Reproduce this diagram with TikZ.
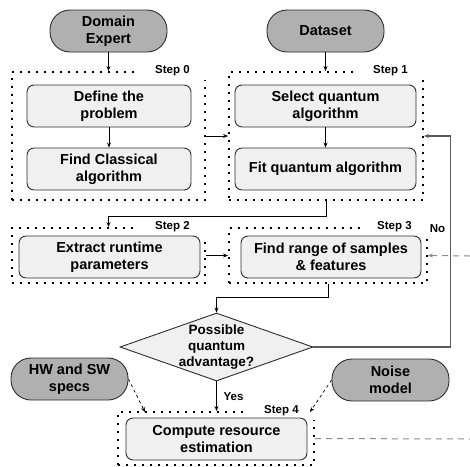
\documentclass[tikz,border=0pt]{standalone}
\usepackage{fontspec}
\setmainfont{Liberation Sans}
\usetikzlibrary{shapes.geometric,arrows.meta}
\definecolor{term}{RGB}{176,176,176}
\definecolor{proc}{RGB}{240,240,240}
\definecolor{edge}{RGB}{45,45,45}
\definecolor{loopline}{RGB}{90,90,90}
\definecolor{extra}{RGB}{140,140,140}

\tikzset{
  terminal/.style={draw=edge, fill=term, line width=0.9pt, rounded corners=20pt,
    minimum width=117pt, minimum height=42pt, align=center,
    font=\bfseries\fontsize{14.5}{17}\selectfont},
  process/.style={draw=edge, fill=proc, line width=0.9pt, rounded corners=7pt,
    minimum width=181pt, minimum height=42pt, align=center,
    font=\bfseries\fontsize{14.5}{17}\selectfont},
  decision/.style={diamond, draw=edge, fill=proc, line width=0.9pt, aspect=2.9,
    inner sep=-2pt, minimum width=193pt, minimum height=68pt, align=center,
    font=\bfseries\fontsize{13.5}{16}\selectfont},
  stepbox/.style={draw, line width=1.9pt, dash pattern=on 1.9pt off 6.1pt},
  steplabel/.style={fill=white, anchor=east, inner xsep=16pt, inner ysep=4pt,
    font=\bfseries\fontsize{11.5}{13}\selectfont},
  answer/.style={font=\bfseries\fontsize{11.5}{13}\selectfont},
  flow/.style={-{Stealth[length=5pt,width=4pt]}, line width=0.8pt},
  feedback/.style={flow, draw=loopline, line width=1.1pt},
  input/.style={flow, dashed, line width=0.7pt},
  outside/.style={draw=extra, line width=1pt, dash pattern=on 6pt off 5pt}
}

\begin{document}
\begin{tikzpicture}[x=1pt, y=-1pt]
\useasboundingbox (0,0) rectangle (470,466);
% sources
\node[terminal] (domain) at (108.5,31) {Domain\\Expert};
\node[terminal] (dataset) at (325.5,31) {Dataset};
\node[terminal] (hwsw) at (69.5,379) {HW and SW\\specs};
\node[terminal] (noise) at (390.5,380) {Noise\\model};
% step frames
\node[stepbox, minimum width=193pt, minimum height=128pt] (step0) at (108.5,136) {};
\node[stepbox, minimum width=194pt, minimum height=128pt] (step1) at (326,136) {};
\node[stepbox, minimum width=193pt, minimum height=55pt] (step2) at (108.5,255.5) {};
\node[stepbox, minimum width=198pt, minimum height=55pt] (step3) at (328,255.5) {};
\node[stepbox, minimum width=196pt, minimum height=53pt] (step4) at (216,438.5) {};
\node[steplabel] (lab0) at (step0.north east) {Step 0};
\node[steplabel] (lab1) at (step1.north east) {Step 1};
\node[steplabel] (lab2) at (step2.north east) {Step 2};
\node[steplabel] (lab3) at (step3.north east) {Step 3};
\node[steplabel] (lab4) at (step4.north east) {Step 4};
% tasks
\node[process, minimum width=164pt] (define) at (109,106) {Define the\\problem};
\node[process, minimum width=164pt] (classical) at (109,169) {Find Classical\\algorithm};
\node[process] (select) at (325.5,106) {Select quantum\\algorithm};
\node[process] (fit) at (325.5,169) {Fit quantum algorithm};
\node[process] (extract) at (109.5,257) {Extract runtime\\parameters};
\node[process, minimum width=180pt] (range) at (331,257) {Find range of samples\\\& features};
\node[decision] (advantage) at (216.5,347) {Possible\\quantum\\advantage?};
\node[process] (compute) at (216.5,439) {Compute resource\\estimation};
\node[answer] (no) at (437.5,229) {No};
\node[answer] (yes) at (233.5,397) {Yes};
% loose ends
\coordinate (hwin) at (145,412);
\coordinate (noisein) at (310,412);
\coordinate (inthree) at (470,256);
\coordinate (outfour) at (470,439);
% connectors
\draw[flow] (domain) -- (step0.north -| domain);
\draw[flow] (dataset) -- (step1.north -| dataset);
\draw[flow] (define) -- (classical);
\draw[flow] (select) -- (fit);
\draw[flow] (step0.east) -- (step1.west);
\draw[flow] (step1.south) -- ++(0,15) -| (step2.north);
\draw[flow] (step2.east) -- (step3.west);
\draw[flow] (step3.south) -- ++(0,13) -| (advantage.north);
\draw[feedback] (advantage.east) -- ++(137,0) |- (step1.east);
\draw[flow] (advantage.south) -- (step4.north -| advantage);
\draw[input] (hwsw.east) -- (hwin);
\draw[input] (noise.west) -- (noisein);
\draw[outside, -{Stealth[length=5pt,width=4pt]}] (inthree) -- (step3.east);
\draw[outside] (step4.east) -- (outfour);
\end{tikzpicture}
\end{document}
